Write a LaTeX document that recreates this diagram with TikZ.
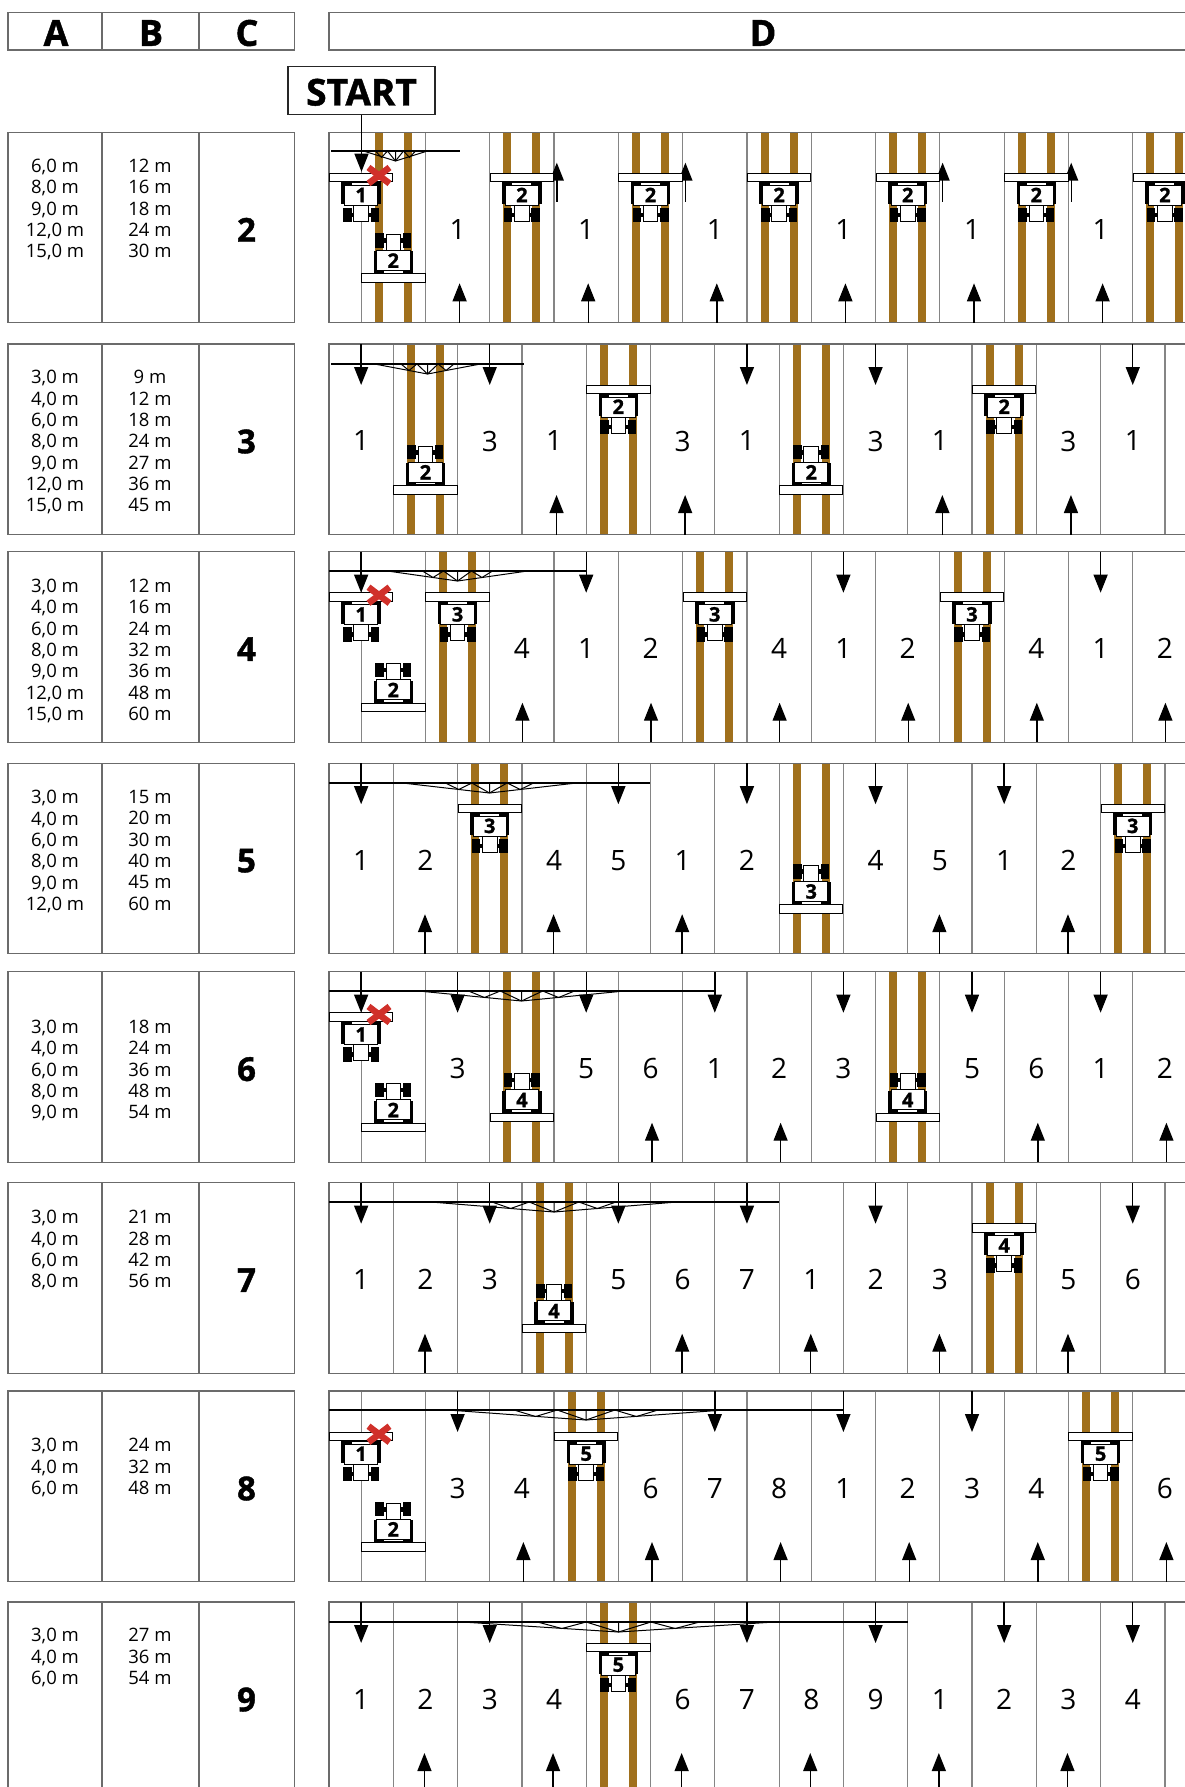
\documentclass[tikz,border=0pt]{standalone}
\usepackage{fontspec}
\setmainfont{Open Sans}[BoldFeatures={FakeBold=1.2}]
\usepackage{xcolor}
\usetikzlibrary{arrows.meta}
\definecolor{tramcol}{HTML}{A0701C}
\definecolor{crosscol}{HTML}{D0302A}
\newcommand{\lx}[1]{329+32.15*#1}

% table cells, lane separators and tramlines of one row
\newcommand{\fieldrow}[8]{%
  \foreach \n in {#8} {
    \fill[tramcol] ({\lx{\n}-18.5},#2) rectangle ({\lx{\n}-10.5},#2+190.5);
    \fill[tramcol] ({\lx{\n}+10.5},#2) rectangle ({\lx{\n}+18.5},#2+190.5);
  }
  \foreach \n in {#7,...,28} \draw[lanesep] ({\lx{\n}},#2) -- ++(0,190.5);
  \draw[frame] (329,#2) rectangle (1200,#2+190.5);
  \draw[frame] (8,#2) rectangle (294.5,#2+190.5);
  \draw[frame] (102,#2) -- ++(0,190.5);
  \draw[frame] (199,#2) -- ++(0,190.5);
  \node[cell] (a#1) at (55,#2+#3) {#4};
  \node[cell] (b#1) at (150,#2+#3) {#5};
  \node[countnum] (c#1) at (246.5,#2+97.5) {#6};
}
\newcommand{\lanenums}[3]{%
  \foreach \n/\lbl in {#3} \node[lanenum] (#1l\n) at ({\lx{\n}},#2+97) {\lbl};
}
\newcommand{\downs}[2]{%
  \foreach \n in {#2} \draw[arr] ({\lx{\n}},#1) -- ++(0,41);
}
\newcommand{\ups}[3]{%
  \foreach \n in {#2} \draw[arr] ({\lx{\n}+#3},#1+190.5) -- ++(0,-39.5);
}
% sprayer boom: ends, height, half width of truss and of zigzag
\newcommand{\boomline}[5]{%
  \pgfmathsetmacro{\cx}{(#1+#2)/2}
  \draw[boomthin] (#1,#3) -- (#2,#3);
  \draw[truss] (\cx-#4,#3) -- (\cx,#3+10) -- (\cx+#4,#3) (\cx,#3) -- (\cx,#3+10);
  \draw[truss] (\cx,#3+10) -- (\cx-.4*#5,#3) -- (\cx-.7*#5,#3+6.5) -- (\cx-#5,#3);
  \draw[truss] (\cx,#3+10) -- (\cx+.4*#5,#3) -- (\cx+.7*#5,#3+6.5) -- (\cx+#5,#3);
}
% name, lane, outer edge of implement, direction, number
\newcommand{\tractor}[5]{%
  \begin{scope}[shift={({\lx{#2}},#3)},yscale=#4]
    \draw[part] (-31.7,0) rectangle (31.7,8.7);
    \fill[black] (-19.7,8.7) rectangle (19.7,31);
    \draw[part] (-10,9.2) rectangle (10,12);
    \draw[part] (-16.7,12) rectangle (16.7,32);
    \fill[black] (-18,34.7) rectangle (-9.5,49);
    \fill[black] (9.5,34.7) rectangle (18,49);
    \fill[black] (-9.5,39.5) rectangle (9.5,44);
    \draw[part] (-7.3,32) rectangle (7.3,48);
    \node[tractornum] (#1) at (0,21.7) {#5};
  \end{scope}
}
\newcommand{\redcross}[2]{%
  \draw[crossbar] (#1-10.5,#2-8) -- (#1+10.5,#2+8);
  \draw[crossbar] (#1+10.5,#2-8) -- (#1-10.5,#2+8);
}

\begin{document}
\begin{tikzpicture}[
  x=1pt, y=-1pt,
  frame/.style={draw=black!58, line width=1.3pt},
  lanesep/.style={draw=black!48, line width=1.2pt},
  arr/.style={-{Triangle[length=18pt,width=14pt]}, line width=1.4pt, black},
  boomthin/.style={line width=1.1pt, black},
  truss/.style={line width=1pt, black},
  part/.style={draw=black, fill=white, line width=1pt},
  crossbar/.style={draw=crosscol, line width=6.5pt},
  cell/.style={anchor=north, inner sep=0pt, align=center, font=\fontsize{18.5}{21.3}\selectfont},
  countnum/.style={font=\fontsize{33}{33}\selectfont\bfseries},
  lanenum/.style={inner sep=0pt, font=\fontsize{28}{28}\selectfont},
  tractornum/.style={inner sep=0pt, font=\fontsize{20}{20}\selectfont\bfseries},
  hdr/.style={inner sep=0pt, font=\fontsize{36}{36}\selectfont\bfseries},
  startbox/.style={draw=black!85, line width=1.2pt, minimum width=147pt, minimum height=48pt,
                   inner sep=0pt, text height=30pt, text depth=0pt, font=\fontsize{37}{37}\selectfont\bfseries}
]
\clip (0,0) rectangle (1185,1787);

% Header
\draw[frame] (8,12.5) rectangle (294.5,50);
\draw[frame] (102,12.5) -- (102,50);
\draw[frame] (199,12.5) -- (199,50);
\draw[frame] (329,12.5) rectangle (1200,50);
\node[hdr] (headA) at (56,33) {A};
\node[hdr] (headB) at (151,33) {B};
\node[hdr] (headC) at (247,33) {C};
\node[hdr] (headD) at (763,33) {D};

% Row 2
\fieldrow{r2}{132.3}{26.7}{6,0 m\\8,0 m\\9,0 m\\12,0 m\\15,0 m}{12 m\\16 m\\18 m\\24 m\\30 m}{2}{1,3}{2,6,...,26}
\lanenums{r2}{132.3}{4/1,8/1,12/1,16/1,20/1,24/1}
\ups{132.3}{4,8,12,16,20,24}{2}
\foreach \x in {556.8,685.4,942.6,1071.2} \draw[arr] (\x,201.7) -- (\x,162.7);
\boomline{331}{460}{151}{32}{20}
\node[startbox] (start) at (361.5,90.5) {START};
\coordinate (startend) at (361.5,171.7);
\draw[arr] (start) -- (startend);
\tractor{r2t1}{1}{132.3+41}{1}{1}
\tractor{r2t2}{2}{132.3+150}{-1}{2}
\foreach \n in {6,10,...,26} {\tractor{r2t\n}{\n}{132.3+41}{1}{2}}
\redcross{379}{175.5}

% Row 3
\fieldrow{r3}{344}{26.3}{3,0 m\\4,0 m\\6,0 m\\8,0 m\\9,0 m\\12,0 m\\15,0 m}{9 m\\12 m\\18 m\\24 m\\27 m\\36 m\\45 m}{3}{2,4}{3,9,15,21}
\lanenums{r3}{344}{1/1,5/3,7/1,11/3,13/1,17/3,19/1,23/3,25/1}
\downs{344}{1,5,13,17,25}
\ups{344}{7,11,19,23}{2.5}
\boomline{331}{524}{364}{53}{26.5}
\tractor{r3t3}{3}{344+150}{-1}{2}
\tractor{r3t9}{9}{344+41}{1}{2}
\tractor{r3t15}{15}{344+150}{-1}{2}
\tractor{r3t21}{21}{344+41}{1}{2}

% Row 4
\fieldrow{r4}{551.7}{27.3}{3,0 m\\4,0 m\\6,0 m\\8,0 m\\9,0 m\\12,0 m\\15,0 m}{12 m\\16 m\\24 m\\32 m\\36 m\\48 m\\60 m}{4}{1,3}{4,12,20}
\lanenums{r4}{551.7}{6/4,8/1,10/2,14/4,16/1,18/2,22/4,24/1,26/2}
\downs{551.7}{1,8,16,24}
\ups{551.7}{6,10,14,18,22,26}{.5}
\boomline{329}{586}{571}{70}{35}
\tractor{r4t1}{1}{551.7+41}{1}{1}
\tractor{r4t2}{2}{551.7+160}{-1}{2}
\foreach \n in {4,12,20} {\tractor{r4t\n}{\n}{551.7+41}{1}{3}}
\redcross{379}{595.2}

% Row 5
\fieldrow{r5}{763.2}{27}{3,0 m\\4,0 m\\6,0 m\\8,0 m\\9,0 m\\12,0 m}{15 m\\20 m\\30 m\\40 m\\45 m\\60 m}{5}{2,4}{5,15,25}
\lanenums{r5}{763.2}{1/1,3/2,7/4,9/5,11/1,13/2,17/4,19/5,21/1,23/2}
\downs{763.2}{1,9,13,17,21}
\ups{763.2}{3,7,11,19,23}{-.5}
\boomline{329}{650}{783}{87}{44}
\tractor{r5t5}{5}{763.2+41}{1}{3}
\tractor{r5t15}{15}{763.2+150}{-1}{3}
\tractor{r5t25}{25}{763.2+41}{1}{3}

% Row 6
\fieldrow{r6}{971.7}{48.3}{3,0 m\\4,0 m\\6,0 m\\8,0 m\\9,0 m}{18 m\\24 m\\36 m\\48 m\\54 m}{6}{1,3}{6,18}
\lanenums{r6}{971.7}{4/3,8/5,10/6,12/1,14/2,16/3,20/5,22/6,24/1,26/2}
\downs{971.7}{1,4,8,12,16,20,24}
\ups{971.7}{10,14,22,26}{1.5}
\boomline{329}{714}{991}{103}{53}
\tractor{r6t1}{1}{971.7+41}{1}{1}
\tractor{r6t2}{2}{971.7+160}{-1}{2}
\tractor{r6t6}{6}{971.7+150}{-1}{4}
\tractor{r6t18}{18}{971.7+150}{-1}{4}
\redcross{379}{1014.5}

% Row 7
\fieldrow{r7}{1182.7}{27.6}{3,0 m\\4,0 m\\6,0 m\\8,0 m}{21 m\\28 m\\42 m\\56 m}{7}{2,4}{7,21}
\lanenums{r7}{1182.7}{1/1,3/2,5/3,9/5,11/6,13/7,15/1,17/2,19/3,23/5,25/6}
\downs{1182.7}{1,5,9,13,17,25}
\ups{1182.7}{3,11,15,19,23}{-.5}
\boomline{329}{779}{1202}{123}{62}
\tractor{r7t7}{7}{1182.7+150}{-1}{4}
\tractor{r7t21}{21}{1182.7+41}{1}{4}

% Row 8
\fieldrow{r8}{1391}{47.3}{3,0 m\\4,0 m\\6,0 m}{24 m\\32 m\\48 m}{8}{1,3}{8,24}
\lanenums{r8}{1391}{4/3,6/4,10/6,12/7,14/8,16/1,18/2,20/3,22/4,26/6}
\downs{1391}{4,12,16,20}
\ups{1391}{6,10,14,18,22,26}{1.5}
\boomline{329}{843}{1410}{138}{72}
\tractor{r8t1}{1}{1391+41}{1}{1}
\tractor{r8t2}{2}{1391+160}{-1}{2}
\tractor{r8t8}{8}{1391+41}{1}{5}
\tractor{r8t24}{24}{1391+41}{1}{5}
\redcross{379}{1434.2}

% Row 9
\fieldrow{r9}{1602}{26.3}{3,0 m\\4,0 m\\6,0 m}{27 m\\36 m\\54 m}{9}{2,4}{9}
\lanenums{r9}{1602}{1/1,3/2,5/3,7/4,11/6,13/7,15/8,17/9,19/1,21/2,23/3,25/4}
\downs{1602}{1,5,13,17,21,25}
\ups{1602}{3,7,11,15,19,23}{-1}
\boomline{329}{908}{1622}{156}{81}
\tractor{r9t9}{9}{1602+41}{1}{5}

\end{tikzpicture}
\end{document}
